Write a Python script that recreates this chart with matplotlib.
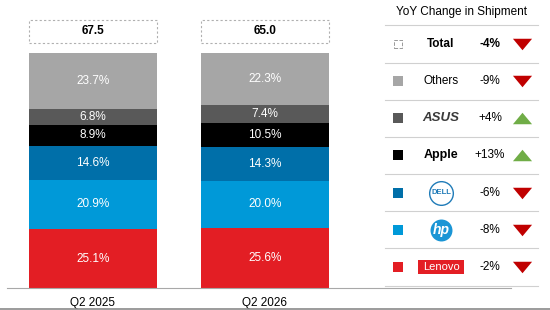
import matplotlib.pyplot as plt
from matplotlib.patches import Rectangle

plt.rcParams["font.family"] = ["Liberation Sans", "DejaVu Sans"]

quarters = ["Q2 2025", "Q2 2026"]
totals = [67.5, 65.0]
# shares bottom -> top: Lenovo, HP, Dell, Apple, ASUS, Others
segments = ["Lenovo", "HP", "Dell", "Apple", "ASUS", "Others"]
shares = {
    "Lenovo": [25.1, 25.6],
    "HP": [20.9, 20.0],
    "Dell": [14.6, 14.3],
    "Apple": [8.9, 10.5],
    "ASUS": [6.8, 7.4],
    "Others": [23.7, 22.3],
}
colors = {
    "Lenovo": "#e31e24",
    "HP": "#0099d8",
    "Dell": "#006fa9",
    "Apple": "#000000",
    "ASUS": "#595959",
    "Others": "#a6a6a6",
}

legend_rows = ["Total", "Others", "ASUS", "Apple", "Dell", "HP", "Lenovo"]
yoy = [-4, -9, 4, 13, -6, -8, -2]

W, H = 550, 310
fig = plt.figure(figsize=(5.5, 3.1), dpi=100)

# bar chart area
ax = fig.add_axes([0, 22 / H, 360 / W, 288 / H])
ax.set_xlim(-93 / 172, (360 - 93) / 172)
ax.set_ylim(0, 100 * 288 / 235)
width = 128 / 172
bottoms = [0.0, 0.0]
for seg in segments:
    vals = shares[seg]
    ax.bar(range(len(quarters)), vals, width=width, bottom=bottoms,
           color=colors[seg], linewidth=0)
    for i, v in enumerate(vals):
        ax.text(i, bottoms[i] + v / 2, f"{v:.1f}%", ha="center", va="center",
                color="white", fontsize=8.5)
    bottoms = [b + v for b, v in zip(bottoms, vals)]

for i, t in enumerate(totals):
    ax.add_patch(Rectangle((i - width / 2, 104.3), width, 9.8, fill=False,
                           edgecolor="#b0b0b0", linestyle=(0, (2, 2)),
                           linewidth=0.8, clip_on=False))
    ax.text(i, 109.2, f"{t:.1f}", ha="center", va="center",
            fontsize=8.5, fontweight="bold")

for i, q in enumerate(quarters):
    ax.text(i, -6.5, q, ha="center", va="center", fontsize=8.5)

ax.axis("off")

# full-width lines (baseline and bottom border)
line_ax = fig.add_axes([0, 0, 1, 1])
line_ax.set_xlim(0, W)
line_ax.set_ylim(H, 0)
line_ax.plot([7, 511], [288, 288], color="#a8a8a8", linewidth=0.8)
line_ax.plot([0, W], [309.3, 309.3], color="#8a8a8a", linewidth=1.2)
line_ax.axis("off")

# legend table
lg = fig.add_axes([360 / W, 0, 190 / W, 1])
lg.set_xlim(0, 190)
row_px = 37.17
lg.set_ylim(6 + (310 - 267) / row_px, -44 / row_px)
lg.axis("off")

tri_down = [(-1, 0.6), (1, 0.6), (0, -0.6)]
tri_up = [(-1, -0.6), (1, -0.6), (0, 0.6)]

lg.text(101, -0.85, "YoY Change in Shipment", ha="center", va="center",
        fontsize=8.5)
for r in range(len(legend_rows) + 1):
    lg.plot([25, 178], [r - 0.5, r - 0.5], color="#d0d0d0", linewidth=0.8)

for r, (name, ch) in enumerate(zip(legend_rows, yoy)):
    if name == "Total":
        lg.scatter(38, r, marker="s", s=40, facecolor="none",
                   edgecolor="#999999", linewidth=0.7, linestyle="--")
        lg.text(81, r, "Total", ha="center", va="center", fontsize=8.5,
                fontweight="bold")
    else:
        lg.scatter(38, r, marker="s", s=42, color=colors[name], linewidth=0)
        if name == "Others":
            lg.text(81, r, "Others", ha="center", va="center", fontsize=8.5)
        elif name == "ASUS":
            lg.text(81, r, "ASUS", ha="center", va="center", fontsize=9.5,
                    fontweight="bold", style="italic", color="#3a3a3a")
        elif name == "Apple":
            lg.text(81, r, "Apple", ha="center", va="center", fontsize=9,
                    fontweight="bold", color="black")
        elif name == "Dell":
            lg.scatter(81, r, marker="o", s=290, facecolor="white",
                       edgecolor="#1f7bb8", linewidth=1.0)
            lg.text(81, r, "DELL", ha="center", va="center", fontsize=5.5,
                    fontweight="bold", color="#1f7bb8")
        elif name == "HP":
            lg.scatter(81, r, marker="o", s=250, color="#1a95d5", linewidth=0)
            lg.text(81, r, "hp", ha="center", va="center", fontsize=10,
                    fontweight="bold", style="italic", color="white")
        elif name == "Lenovo":
            lg.add_patch(Rectangle((58, r - 7 / row_px), 46, 14 / row_px,
                                   facecolor="#e31e24", edgecolor="none"))
            lg.text(81, r, "Lenovo", ha="center", va="center", fontsize=8,
                    color="white")
    sign = "+" if ch > 0 else "-"
    lg.text(130, r, f"{sign}{abs(ch)}%", ha="center", va="center",
            fontsize=8.5, fontweight="bold" if name == "Total" else "normal")
    if ch > 0:
        lg.scatter(162, r, marker=tri_up, s=190, color="#70ad47", linewidth=0)
    else:
        lg.scatter(162, r, marker=tri_down, s=190, color="#c00000", linewidth=0)

fig.savefig("out.png", dpi=100)
